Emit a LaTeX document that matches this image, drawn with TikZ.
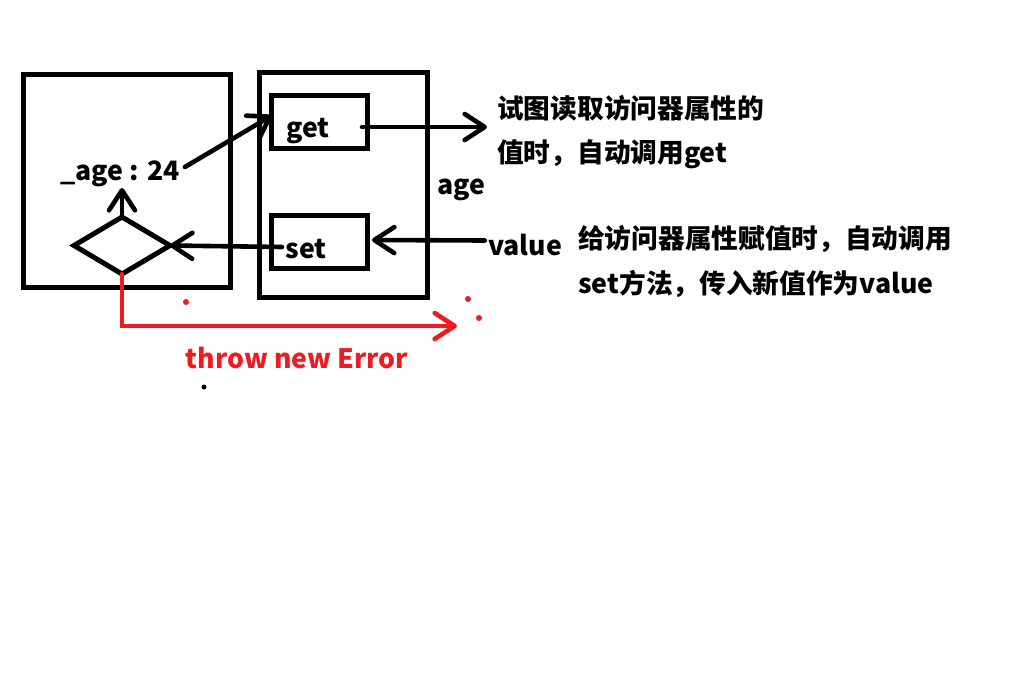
\documentclass[tikz,border=0pt]{standalone}
\usepackage{fontspec}
\setmainfont{Noto Sans CJK SC}
\usetikzlibrary{arrows.meta,shapes.geometric,calc}
\definecolor{pred}{RGB}{237,28,36}
\begin{document}
\begin{tikzpicture}[x=1pt,y=-1pt,
  box/.style={draw,line width=5pt,minimum width=#1,outer sep=0pt,inner sep=0pt},
  txt/.style={inner sep=0pt,font=\fontsize{26.7}{32}\selectfont\bfseries},
  conn/.style={line width=4.6pt,line cap=round,-{Straight Barb[length=20pt,width=26pt,line cap=round,round]}},
  dot/.style={circle,fill,inner sep=0pt,minimum size=6pt}
]
\useasboundingbox (0,0) rectangle (1016,699);
\fill[white] (0,0) rectangle (1016,699);
% boxes
\node[box=207pt,minimum height=213pt] (leftbox) at (126.5,180.5) {};
\node[box=168pt,minimum height=225pt] (rightbox) at (343,184.5) {};
\node[box=96pt,minimum height=53pt] (getbox) at (319,121.5) {};
\node[box=96pt,minimum height=53pt] (setbox) at (319,241.5) {};
\node[draw,diamond,line width=5pt,minimum width=96pt,minimum height=57pt,inner sep=0pt,outer sep=0pt,aspect=1.7] (dia) at (122,245.5) {};
% texts
\node[txt] (getlbl) at (308,131) {get};
\node[txt] (setlbl) at (306,249) {set};
\node[txt] (agelbl) at (120,174) {\_age : 24};
\node[txt] (agename) at (461,190) {age};
\node[txt] (valuelbl) at (525,245) {value};
\node[txt,anchor=west] (g1) at (497,108) {试图读取访问器属性的};
\node[txt,anchor=west] (g2) at (497,154) {值时，自动调用get};
\node[txt,anchor=west] (s1) at (578,239) {给访问器属性赋值时，自动调用};
\node[txt,anchor=west] (s2) at (578,284) {set方法，传入新值作为value};
\node[txt,text=pred] (err) at (297,358) {throw new Error};
% connectors
\draw[conn] ($(agelbl.east)+(5,-7)$) -- ($(getbox.west)+(1,-6)$);
\draw[conn] (dia.north) -- ($(dia.north)+(0,-29)$);
\draw[conn] ($(setbox.west)+(11,5.5)$) -- (dia.east);
\draw[conn] ($(getbox.east)+(-5,5.5)$) -- ($(getbox.east)+(120,5.5)$);
\draw[conn] ($(valuelbl.west)+(-3,-4.5)$) -- ($(setbox.east)+(5,-1.5)$);
\coordinate (errend) at (457,326);
\draw[conn,pred] (dia.south) |- (errend);
% stray dots
\node[dot,pred] (d1) at (186,302) {};
\node[dot,pred] (d2) at (468,299) {};
\node[dot,pred] (d3) at (479,318) {};
\node[dot,minimum size=5pt] (d4) at (204,387) {};
\end{tikzpicture}
\end{document}
